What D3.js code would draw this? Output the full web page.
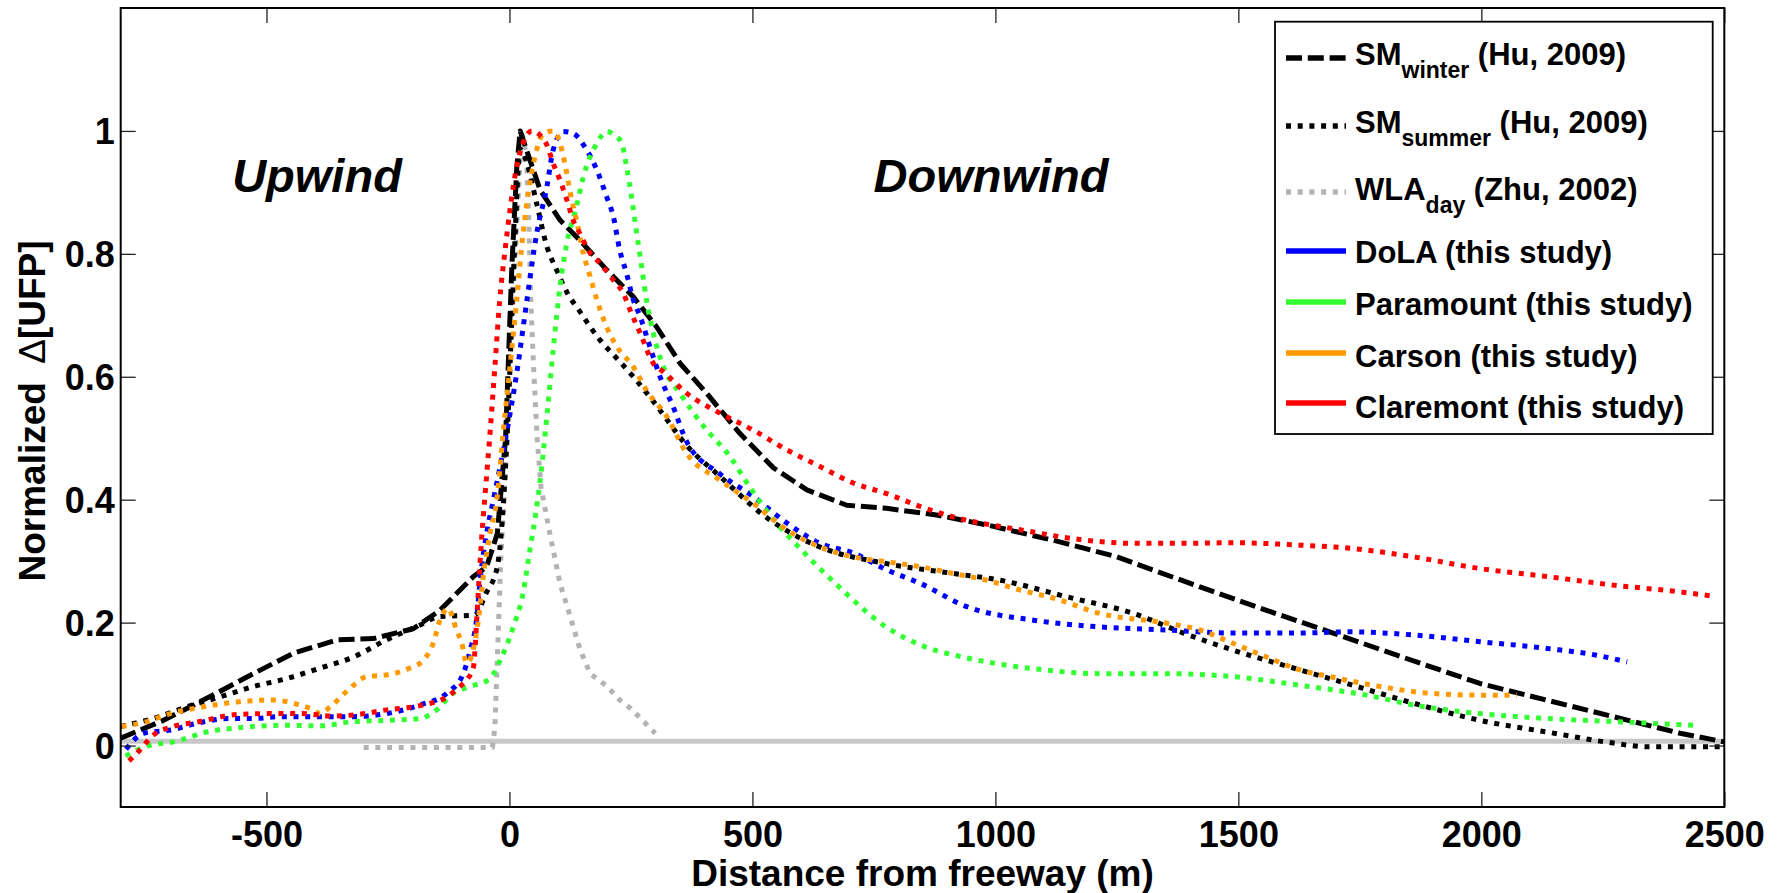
<!DOCTYPE html>
<html><head><meta charset="utf-8">
<script src="https://cdn.jsdelivr.net/npm/d3@7"></script>
<style>
body{margin:0;background:#fff;}
svg{display:block;font-family:"Liberation Sans",Arial,sans-serif;font-weight:bold;}
</style></head><body>
<svg id="chart" width="1783" height="893"></svg>
<script>
// ---------------- data ----------------
const xTicks = [-500, 0, 500, 1000, 1500, 2000, 2500];
const xTickLabels = ["-500", "0", "500", "1000", "1500", "2000", "2500"];
const yTicks = [0, 0.2, 0.4, 0.6, 0.8, 1];
const yTickLabels = ["0", "0.2", "0.4", "0.6", "0.8", "1"];

const smWinterX = [-800,-712,-630,-527,-445,-355,-280,-198,-143,-74,-47,-25,-8,5,15,22,63,104,145,200,255,303,351,406,474,543,612,694,776,879,982,1119,1250,1421,1558,1695,1826,1997,2134,2272,2409,2500];
const smWinterY = [0.012,0.041,0.074,0.117,0.150,0.172,0.174,0.190,0.220,0.275,0.291,0.345,0.500,0.780,0.940,1.000,0.904,0.855,0.822,0.774,0.730,0.681,0.622,0.573,0.508,0.452,0.416,0.391,0.386,0.375,0.359,0.334,0.307,0.258,0.220,0.183,0.147,0.101,0.074,0.047,0.020,0.006];

const smSummerX = [-800,-733,-664,-596,-527,-458,-390,-321,-253,-184,-143,-72,-48,-25,-5,10,22,35,56,77,97,118,145,186,221,255,296,365,433,536,639,776,913,1010,1147,1284,1387,1490,1627,1723,1860,1997,2135,2272,2340,2500];
const smSummerY = [0.031,0.044,0.063,0.079,0.096,0.109,0.126,0.144,0.172,0.196,0.210,0.212,0.248,0.291,0.500,0.800,0.970,0.950,0.882,0.812,0.774,0.738,0.706,0.660,0.630,0.600,0.560,0.488,0.438,0.367,0.323,0.296,0.280,0.269,0.242,0.215,0.183,0.155,0.123,0.101,0.069,0.041,0.022,0.004,-0.002,-0.002];

const wlaX = [-300,-35,-30,-25,-18,-10,0,12,25,35,40,44,50,57,65,83,104,125,145,166,200,227,250,300];
const wlaY = [-0.003,-0.003,0.030,0.140,0.300,0.420,0.600,0.800,1.000,0.960,0.850,0.720,0.610,0.500,0.420,0.345,0.264,0.210,0.157,0.117,0.097,0.074,0.060,0.020];

const dolaX = [-789,-753,-692,-644,-575,-527,-472,-390,-321,-253,-184,-129,-95,-81,-67,-61,-47,-33,-6,15,36,56,77,90,111,131,159,180,200,214,227,241,255,269,289,310,337,365,433,502,571,639,708,776,845,941,1078,1215,1353,1490,1627,1723,1860,1997,2135,2237,2300];
const dolaY = [-0.006,0.020,0.026,0.036,0.044,0.044,0.047,0.047,0.047,0.052,0.066,0.085,0.117,0.155,0.210,0.264,0.345,0.400,0.508,0.606,0.725,0.833,0.909,0.969,0.999,0.996,0.969,0.936,0.893,0.860,0.806,0.768,0.725,0.698,0.649,0.600,0.551,0.494,0.442,0.405,0.362,0.329,0.313,0.286,0.264,0.226,0.204,0.193,0.188,0.183,0.183,0.185,0.180,0.169,0.158,0.147,0.136];

const paramountX = [-790,-750,-685,-623,-568,-527,-465,-390,-321,-253,-184,-150,-116,-81,-40,-19,8,28,42,53,63,77,90,104,118,138,152,180,200,217,231,241,252,262,272,282,296,317,351,399,454,495,536,605,673,775,854,933,1012,1090,1215,1353,1490,1627,1764,1860,1997,2135,2272,2436];
const paramountY = [-0.017,-0.002,0.007,0.022,0.028,0.031,0.033,0.032,0.039,0.041,0.044,0.058,0.085,0.096,0.109,0.139,0.193,0.248,0.318,0.372,0.430,0.535,0.644,0.747,0.817,0.877,0.925,0.980,0.999,0.993,0.980,0.942,0.888,0.833,0.779,0.725,0.671,0.616,0.573,0.520,0.470,0.420,0.375,0.315,0.262,0.193,0.161,0.144,0.132,0.124,0.117,0.117,0.112,0.098,0.082,0.066,0.052,0.044,0.039,0.033];

const carsonX = [-798,-746,-698,-630,-561,-486,-445,-404,-390,-369,-335,-294,-253,-205,-177,-157,-143,-126,-109,-98,-88,-64,-54,-40,-26,-13,1,15,28,42,56,70,90,104,114,128,138,152,166,180,200,221,255,282,324,365,433,502,571,639,708,776,845,913,982,1051,1119,1215,1353,1421,1490,1558,1627,1689,1792,1894,1997,2073];
const carsonY = [0.031,0.039,0.052,0.063,0.071,0.074,0.069,0.058,0.052,0.063,0.088,0.112,0.115,0.126,0.139,0.166,0.204,0.223,0.188,0.166,0.134,0.204,0.275,0.345,0.400,0.508,0.616,0.725,0.833,0.915,0.969,0.996,1.000,0.980,0.947,0.888,0.855,0.801,0.763,0.725,0.681,0.649,0.616,0.578,0.535,0.475,0.432,0.394,0.351,0.323,0.307,0.299,0.291,0.280,0.269,0.253,0.240,0.215,0.199,0.188,0.166,0.144,0.123,0.112,0.096,0.085,0.082,0.082];

const claremontX = [-783,-767,-733,-692,-637,-568,-500,-431,-362,-307,-253,-184,-129,-102,-88,-74,-71,-67,-61,-54,-50,-40,-30,-20,-9,1,15,28,46,63,77,90,104,118,131,145,166,186,214,234,251,269,296,317,365,433,502,571,639,708,776,845,913,1051,1188,1284,1387,1490,1627,1730,1860,1997,2135,2272,2409,2477];
const claremontY = [-0.025,-0.013,0.017,0.031,0.039,0.050,0.052,0.052,0.048,0.051,0.058,0.065,0.079,0.096,0.107,0.128,0.155,0.210,0.291,0.372,0.410,0.508,0.616,0.725,0.806,0.871,0.942,0.980,1.000,0.993,0.977,0.947,0.920,0.888,0.855,0.833,0.801,0.785,0.757,0.736,0.703,0.671,0.622,0.608,0.573,0.541,0.513,0.481,0.454,0.427,0.410,0.389,0.372,0.351,0.334,0.329,0.329,0.330,0.326,0.321,0.307,0.288,0.275,0.261,0.250,0.243];

const baselineX = [-800, 2500];
const baselineY = [0.007, 0.007];

// ---------------- layout ----------------
const L = 120.7, R = 1724.3, T = 8, B = 807;
const svg = d3.select("#chart");
const x = d3.scaleLinear().domain([-800, 2500]).range([L, R]);
const y = d3.scaleLinear().domain([-0.1, 1.2]).range([B, T]);

const DOT = "5,6.7", DASH = "16,5.8";
const series = [
  {name:"base", xs:baselineX, ys:baselineY, color:"#c8c8c8", dash:null, curve:d3.curveLinear},
  {name:"wla", xs:wlaX, ys:wlaY, color:"#b3b3b3", dash:DOT, curve:d3.curveLinear},
  {name:"smw", xs:smWinterX, ys:smWinterY, color:"#000", dash:DASH, curve:d3.curveLinear},
  {name:"sms", xs:smSummerX, ys:smSummerY, color:"#000", dash:DOT, curve:d3.curveMonotoneX},
  {name:"dola", xs:dolaX, ys:dolaY, color:"#0000ff", dash:DOT, curve:d3.curveMonotoneX},
  {name:"para", xs:paramountX, ys:paramountY, color:"#33ff33", dash:DOT, curve:d3.curveMonotoneX},
  {name:"cars", xs:carsonX, ys:carsonY, color:"#ff9900", dash:DOT, curve:d3.curveMonotoneX},
  {name:"clar", xs:claremontX, ys:claremontY, color:"#ff0000", dash:DOT, curve:d3.curveMonotoneX}
];

const plot = svg.append("g");
plot.append("defs").append("clipPath").attr("id","clip")
  .append("rect").attr("x",L).attr("y",T).attr("width",R-L).attr("height",B-T);
const lines = plot.append("g").attr("clip-path","url(#clip)");
series.forEach(s => {
  const pts = d3.zip(s.xs, s.ys);
  const gen = d3.line().x(d => x(d[0])).y(d => y(d[1])).curve(s.curve);
  lines.append("path").attr("d", gen(pts))
    .attr("fill","none").attr("stroke", s.color).attr("stroke-width",5)
    .attr("stroke-dasharray", s.dash).attr("stroke-linecap","butt").attr("stroke-linejoin","round");
});

// ---------------- axes ----------------
const fontTick = 36;
const gx = svg.append("g").attr("transform",`translate(0,${B})`)
  .call(d3.axisBottom(x).tickValues(xTicks).tickFormat((d,i) => xTickLabels[i]).tickSizeInner(-15).tickSizeOuter(0).tickPadding(14));
const gxt = svg.append("g").attr("transform",`translate(0,${T})`)
  .call(d3.axisTop(x).tickValues(xTicks).tickFormat("").tickSizeInner(-15).tickSizeOuter(0));
const gy = svg.append("g").attr("transform",`translate(${L},0)`)
  .call(d3.axisLeft(y).tickValues(yTicks).tickFormat((d,i) => yTickLabels[i]).tickSizeInner(-15).tickSizeOuter(0).tickPadding(6));
const gyr = svg.append("g").attr("transform",`translate(${R},0)`)
  .call(d3.axisRight(y).tickValues(yTicks).tickFormat("").tickSizeInner(-15).tickSizeOuter(0));
[gx,gxt,gy,gyr].forEach(g => {
  g.select(".domain").remove();
  g.selectAll(".tick line").attr("stroke","#222").attr("stroke-width",1.3);
  g.selectAll("text").attr("fill","#000").attr("font-size",fontTick)
    .attr("font-family",'"Liberation Sans",Arial,sans-serif').attr("font-weight","bold");
});
gy.selectAll("text").attr("dy","0.36em");

// frame
svg.append("rect").attr("x",L).attr("y",T).attr("width",R-L).attr("height",B-T)
  .attr("fill","none").attr("stroke","#000").attr("stroke-width",2);

// axis titles
svg.append("text").attr("x",(L+R)/2).attr("y",886).attr("text-anchor","middle")
  .attr("font-size",37).text("Distance from freeway (m)");
const yt = svg.append("text").attr("transform","translate(45,411) rotate(-90)")
  .attr("text-anchor","middle").attr("font-size",37);
yt.append("tspan").text("Normalized ");
yt.append("tspan").attr("dx",8).attr("font-weight","normal").text("\u0394");
yt.append("tspan").text("[UFP]");

// region labels
svg.append("text").attr("x",317).attr("y",192).attr("text-anchor","middle")
  .attr("font-size",47).attr("font-style","italic").text("Upwind");
svg.append("text").attr("x",991).attr("y",192).attr("text-anchor","middle")
  .attr("font-size",47).attr("font-style","italic").text("Downwind");

// ---------------- legend ----------------
const legendMain = ["SM", "SM", "WLA", "DoLA (this study)", "Paramount (this study)", "Carson (this study)", "Claremont (this study)"];
const legendSub = ["winter", "summer", "day", null, null, null, null];
const legendTail = [" (Hu, 2009)", " (Hu, 2009)", " (Zhu, 2002)", null, null, null, null];
const legendSeries = ["smw", "sms", "wla", "dola", "para", "cars", "clar"];
const legendLineY = [58, 126, 192, 251, 302, 353, 403];
const legendBase = [65, 133, 200, 263, 315, 366.5, 418];

const lg = svg.append("g");
lg.append("rect").attr("x",1275).attr("y",21.7).attr("width",437.7).attr("height",412.3)
  .attr("fill","#fff").attr("stroke","#000").attr("stroke-width",1.8);
legendSeries.forEach((key,i) => {
  const s = series.find(d => d.name === key);
  const solid = i >= 3;
  lg.append("line").attr("x1",1286).attr("x2",1346).attr("y1",legendLineY[i]).attr("y2",legendLineY[i])
    .attr("stroke",s.color).attr("stroke-width",5.5)
    .attr("stroke-dasharray", solid ? null : s.dash);
  const t = lg.append("text").attr("x",1355).attr("y",legendBase[i]).attr("font-size",31);
  t.append("tspan").text(legendMain[i]);
  if (legendSub[i]) {
    t.append("tspan").attr("dy",13).attr("font-size",23).text(legendSub[i]);
    t.append("tspan").attr("dy",-13).text(legendTail[i]);
  }
});
</script></body></html>
